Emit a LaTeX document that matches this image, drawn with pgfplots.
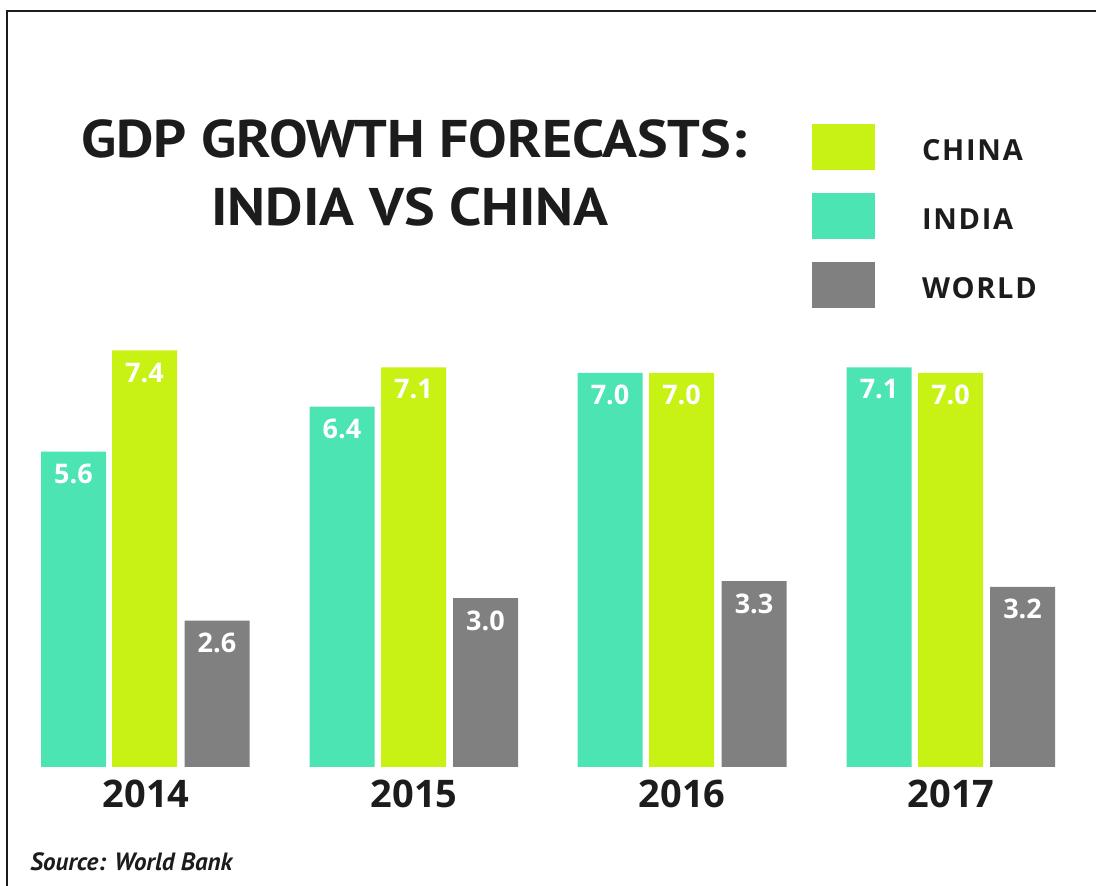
\documentclass[border=0pt]{standalone}
\usepackage{fontspec}
\setmainfont{Open Sans}
\newfontfamily\ptsans{PT Sans}
\newfontfamily\legfont[LetterSpace=6]{Open Sans}
\usepackage{pgfplots}
\pgfplotsset{compat=1.18}
\definecolor{indiac}{RGB}{77,228,180}
\definecolor{chinac}{RGB}{200,242,20}
\definecolor{worldc}{RGB}{128,128,128}
\definecolor{ink}{RGB}{28,28,28}
\begin{document}
\begin{tikzpicture}
\begin{axis}[
  at={(0pt,0pt)}, anchor=south west,
  width=548pt, height=443pt, scale only axis,
  xmin=0, xmax=1096, ymin=-2.1137, ymax=13.6234,
  hide axis, clip=false,
  /pgf/number format/assume math mode=true,
  nodes near coords={\pgfmathprintnumber[fixed,fixed zerofill,precision=1]{\pgfplotspointmeta}},
  point meta=y,
  every node near coord/.append style={anchor=north, yshift=-6pt, inner sep=0pt, text=white, font=\bfseries\fontsize{13.5}{13.5}\selectfont},
  legend style={at={(rel axis cs:0.74088,0.86004)}, anchor=north west, draw=none, fill=none, inner sep=0pt, outer sep=0pt,
    row sep=11.5pt, font=\legfont\bfseries\fontsize{14.5}{14.5}\selectfont, text=ink, nodes={inner sep=0pt, anchor=west, yshift=-2.5pt}},
  legend cell align=left,
  legend image code/.code={\fill[#1] (0pt,-11.5pt) rectangle (31.5pt,11.5pt); \path (55pt,0pt);},
]
% India
\addplot[ybar, forget plot, bar width=32.5pt, bar shift=0pt, fill=indiac, draw=none]
  coordinates {(73.5,5.6) (342,6.4) (610,7.0) (879,7.1)};
% China
\addplot[ybar, forget plot, bar width=32.5pt, bar shift=0pt, fill=chinac, draw=none]
  coordinates {(144.5,7.4) (413.5,7.1) (681.5,7.0) (950.5,7.0)};
% World
\addplot[ybar, forget plot, bar width=32.5pt, bar shift=0pt, fill=worldc, draw=none]
  coordinates {(217,2.6) (485.5,3.0) (754,3.3) (1022.5,3.2)};
\addlegendimage{fill=chinac, draw=none}
\addlegendimage{fill=indiac, draw=none}
\addlegendimage{fill=worldc, draw=none}
\legend{CHINA,INDIA,WORLD}
\foreach \xx/\yy in {146/2014, 414/2015, 682/2016, 951/2017}{
  \edef\tmp{\noexpand\node[anchor=base, text=ink, font=\noexpand\bfseries\noexpand\fontsize{19}{19}\noexpand\selectfont, inner sep=0pt] at (axis cs:\xx,-0.728) {\yy};}
  \tmp
}
\end{axis}
\draw[line width=1.2pt, ink] (3.5pt,0pt) -- (3.5pt,437.5pt) -- (548pt,437.5pt);
\node[anchor=base, inner sep=0pt, text=ink, font=\ptsans\bfseries\fontsize{26.5}{26.5}\selectfont] at (207pt,364pt) {\scalebox{1.09}[1]{GDP GROWTH FORECASTS:}};
\node[anchor=base, inner sep=0pt, text=ink, font=\ptsans\bfseries\fontsize{26.5}{26.5}\selectfont] at (205pt,330pt) {\scalebox{1.09}[1]{INDIA VS CHINA}};
\node[anchor=base west, inner sep=0pt, text=ink, font=\ptsans\bfseries\itshape\fontsize{12.5}{12.5}\selectfont] at (15pt,7.5pt) {Source: World Bank};
\pgfresetboundingbox
\useasboundingbox (0pt,0pt) rectangle (548pt,443pt);
\end{tikzpicture}
\end{document}
